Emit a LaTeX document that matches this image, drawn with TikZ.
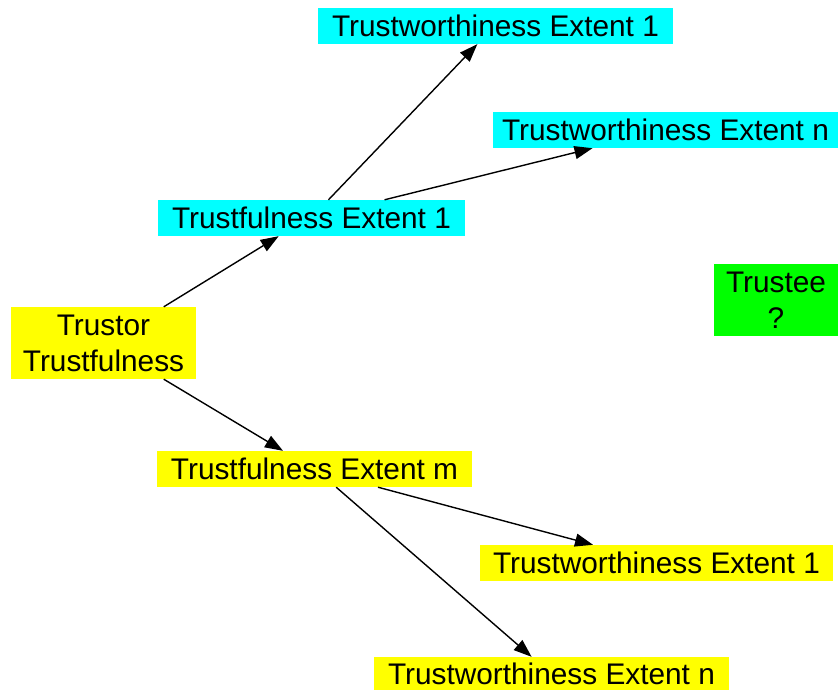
\documentclass[tikz,border=0pt]{standalone}
\usepackage{fontspec}
\setmainfont{Liberation Sans}
\usetikzlibrary{arrows.meta}
\definecolor{boxcyan}{RGB}{0,255,255}
\definecolor{boxyellow}{RGB}{255,255,0}
\definecolor{boxgreen}{RGB}{0,255,0}
\tikzset{
  lbl/.style={rectangle, inner sep=0pt, minimum height=36pt, align=center,
    font=\fontsize{29.8}{36}\selectfont, text=black},
  conn/.style={line width=1.4pt, -{Triangle[length=18pt,width=13pt]}}
}
\begin{document}
\begin{tikzpicture}[x=1pt,y=-1pt]
\useasboundingbox (0,0) rectangle (838,690);
\node[lbl, fill=boxcyan, minimum width=355pt] (te1) at (495.5,26) {Trustworthiness Extent 1};
\node[lbl, fill=boxcyan, minimum width=345pt] (ten) at (665.5,130) {Trustworthiness Extent n};
\node[lbl, fill=boxcyan, minimum width=307pt] (tf1) at (311.5,218) {Trustfulness Extent 1};
\node[lbl, fill=boxgreen, minimum width=124pt, minimum height=72pt] (trustee) at (776,300) {Trustee\\?};
\node[lbl, fill=boxyellow, minimum width=185pt, minimum height=72pt] (trustor) at (103.5,343) {Trustor\\Trustfulness};
\node[lbl, fill=boxyellow, minimum width=315pt] (tfm) at (314.5,469) {Trustfulness Extent m};
\node[lbl, fill=boxyellow, minimum width=353pt] (tw1) at (656.5,563) {Trustworthiness Extent 1};
\node[lbl, fill=boxyellow, minimum width=355pt, minimum height=33pt] (twn) at (551.5,673.5) {Trustworthiness Extent n};
\draw[conn] (trustor.31.6) -- (tf1.209.7);
\draw[conn] (tf1.47.5) -- (te1.225.8);
\draw[conn] (tf1.14.1) -- (ten.194.5);
\draw[conn] (trustor.329.7) -- (tfm.150.3);
\draw[conn] (tfm.344.6) -- (tw1.164.9);
\draw[conn] (tfm.320.1) -- (twn.140);
\end{tikzpicture}
\end{document}
